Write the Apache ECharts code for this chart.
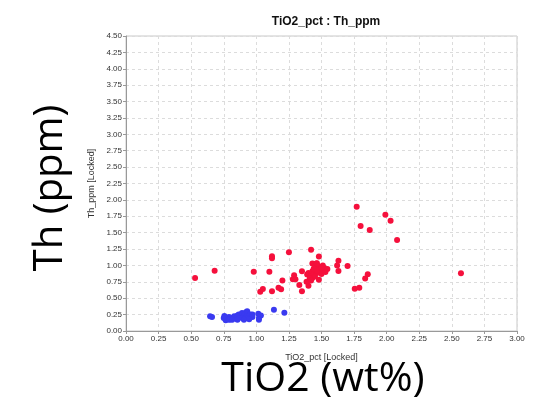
<!DOCTYPE html>
<html>
<head>
<meta charset="utf-8">
<script src="https://cdn.jsdelivr.net/npm/echarts@6/dist/echarts.min.js"></script>
<style>
html, body { margin: 0; padding: 0; background: #fff; }
#chart { width: 551px; height: 405px; }
</style>
</head>
<body>
<div id="chart"></div>
<script>
// TiO2_pct (x) vs Th_ppm (y)
const redPoints = [
    [0.53, 0.81], [0.68, 0.92], [0.98, 0.905], [1.10, 0.905], [1.12, 1.14], [1.12, 1.11],
    [1.25, 1.20], [1.03, 0.60], [1.05, 0.64], [1.12, 0.605], [1.17, 0.66], [1.19, 0.635],
    [1.20, 0.77], [1.29, 0.85], [1.28, 0.79], [1.30, 0.79], [1.33, 0.70], [1.35, 0.91],
    [1.35, 0.605], [1.40, 0.69], [1.42, 1.24], [1.48, 1.135], [1.43, 1.03], [1.46, 1.03],
    [1.475, 0.985], [1.39, 0.86], [1.40, 0.885], [1.415, 0.835], [1.43, 0.91], [1.44, 0.86],
    [1.455, 0.935], [1.465, 0.885], [1.48, 0.96], [1.49, 0.91], [1.505, 0.935], [1.52, 0.96],
    [1.53, 0.935], [1.545, 0.945], [1.48, 0.78], [1.385, 0.75], [1.43, 0.81], [1.455, 0.985],
    [1.465, 1.035], [1.63, 1.07], [1.62, 1.0], [1.63, 0.915], [1.70, 0.99], [1.755, 0.645],
    [1.79, 0.66], [1.77, 1.895], [1.80, 1.60], [1.87, 1.54], [1.99, 1.775], [2.03, 1.68],
    [2.08, 1.39], [2.57, 0.88], [1.835, 0.80], [1.855, 0.865], [1.41, 0.80], [1.45, 0.83],
    [1.50, 0.87], [1.47, 0.92], [1.44, 0.95], [1.51, 1.0], [1.53, 0.90], [1.42, 0.77], [1.50, 0.96]
];
const bluePoints = [
    [0.645, 0.225], [0.66, 0.215], [0.75, 0.20], [0.765, 0.165], [0.775, 0.185], [0.79, 0.215],
    [0.80, 0.175], [0.815, 0.20], [0.83, 0.225], [0.84, 0.20], [0.855, 0.235], [0.865, 0.25],
    [0.88, 0.215], [0.89, 0.275], [0.905, 0.225], [0.92, 0.285], [0.93, 0.30], [0.945, 0.235],
    [0.955, 0.25], [0.97, 0.215], [1.015, 0.265], [1.02, 0.20], [1.035, 0.235], [1.135, 0.325],
    [1.215, 0.28], [0.755, 0.23], [0.79, 0.17], [0.815, 0.17], [0.855, 0.17], [0.89, 0.20],
    [0.92, 0.20], [0.945, 0.18], [0.905, 0.17], [1.02, 0.17], [0.97, 0.25]
];
const xTicks = { min: 0, max: 3, interval: 0.25 };
const yTicks = { min: 0, max: 4.5, interval: 0.25 };

const myEcharts = echarts.init(document.getElementById('chart'));
const labelFont = 'Liberation Sans, Arial, sans-serif';
const option = {
    animation: false,
    title: {
        text: 'TiO2_pct : Th_ppm',
        left: 321,
        top: 11,
        textAlign: 'center',
        textStyle: { fontFamily: labelFont, fontSize: 12, fontWeight: 'bold', color: '#111' }
    },
    grid: {
        left: 126,
        right: 34,
        top: 36,
        bottom: 74,
        show: true,
        borderColor: '#c8c8c8',
        borderWidth: 1
    },
    xAxis: {
        type: 'value',
        min: xTicks.min,
        max: xTicks.max,
        interval: xTicks.interval,
        name: 'TiO2_pct [Locked]',
        nameLocation: 'middle',
        nameGap: 22,
        nameTextStyle: { fontFamily: labelFont, fontSize: 9, color: '#333' },
        axisLine: { show: true, lineStyle: { color: '#999' } },
        axisTick: { show: true, length: 3, lineStyle: { color: '#999' } },
        axisLabel: {
            fontFamily: labelFont, fontSize: 8, color: '#333', margin: 4,
            formatter: v => v.toFixed(2)
        },
        splitLine: { show: true, lineStyle: { color: '#dcdcdc', type: [3, 3] } }
    },
    yAxis: {
        type: 'value',
        min: yTicks.min,
        max: yTicks.max,
        interval: yTicks.interval,
        name: 'Th_ppm [Locked]',
        nameLocation: 'middle',
        nameGap: 29,
        nameTextStyle: { fontFamily: labelFont, fontSize: 9, color: '#333' },
        axisLine: { show: true, lineStyle: { color: '#999' } },
        axisTick: { show: true, length: 3, lineStyle: { color: '#999' } },
        axisLabel: {
            fontFamily: labelFont, fontSize: 8, color: '#333', margin: 4,
            formatter: v => v.toFixed(2)
        },
        splitLine: { show: true, lineStyle: { color: '#dcdcdc', type: [3, 3] } }
    },
    graphic: [
        {
            type: 'text',
            x: 51,
            y: 188,
            rotation: Math.PI / 2,
            style: {
                text: 'Th (ppm)',
                fontFamily: 'Open Sans, sans-serif',
                fontSize: 40,
                fill: '#000',
                align: 'center',
                verticalAlign: 'middle'
            }
        },
        {
            type: 'text',
            x: 323,
            y: 379,
            style: {
                text: 'TiO2 (wt%)',
                fontFamily: 'Open Sans, sans-serif',
                fontSize: 41,
                fill: '#000',
                align: 'center',
                verticalAlign: 'middle'
            }
        }
    ],
    series: [
        {
            type: 'scatter',
            data: redPoints,
            symbolSize: 6,
            itemStyle: { color: '#f5103c', opacity: 1 }
        },
        {
            type: 'scatter',
            data: bluePoints,
            symbolSize: 6,
            itemStyle: { color: '#3a3af0', opacity: 1 }
        }
    ]
};
myEcharts.setOption(option);
</script>
</body>
</html>
